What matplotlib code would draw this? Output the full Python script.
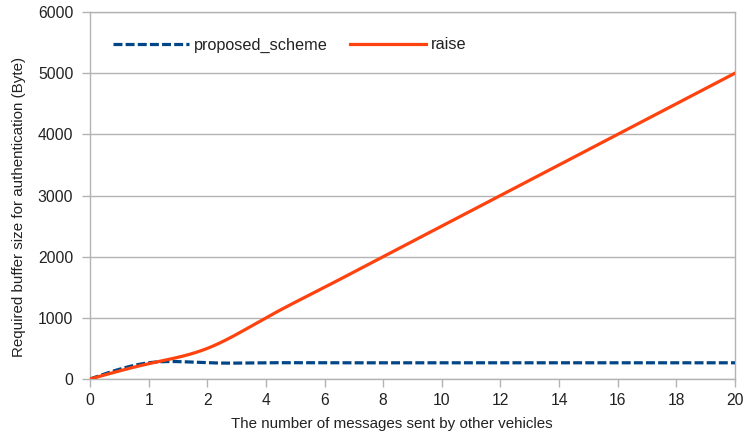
import numpy as np
import matplotlib
matplotlib.use("Agg")
import matplotlib.pyplot as plt

# data (category axis)
categories = ["0", "1", "2", "4", "6", "8", "10", "12", "14", "16", "18", "20"]
proposed_scheme = [0, 265, 265, 265, 265, 265, 265, 265, 265, 265, 265, 265]
raise_values = [0, 250, 500, 1000, 1500, 2000, 2500, 3000, 3500, 4000, 4500, 5000]
y_ticks = [0, 1000, 2000, 3000, 4000, 5000, 6000]


def natural_spline(y, steps=20):
    # cubic spline smoothing like the office chart tool, x = category index
    y = np.asarray(y, dtype=float)
    n = len(y)
    a = np.zeros((n, n))
    b = np.zeros(n)
    a[0, 0] = a[-1, -1] = 1
    for i in range(1, n - 1):
        a[i, i - 1], a[i, i], a[i, i + 1] = 1, 4, 1
        b[i] = 6 * (y[i + 1] - 2 * y[i] + y[i - 1])
    m = np.linalg.solve(a, b)
    xs, ys = [], []
    for i in range(n - 1):
        t = np.linspace(0, 1, steps, endpoint=False)
        s = ((1 - t) * y[i] + t * y[i + 1]
             + ((1 - t) ** 3 - (1 - t)) * m[i] / 6 + (t ** 3 - t) * m[i + 1] / 6)
        xs.extend(i + t)
        ys.extend(s)
    xs.append(n - 1)
    ys.append(y[-1])
    return np.array(xs), np.array(ys)


plt.rcParams["font.family"] = ["Liberation Sans", "DejaVu Sans"]
grid_color = "#b3b3b3"
text_color = "#222222"

fig = plt.figure(figsize=(7.45, 4.37), dpi=100)
ax = fig.add_axes([90 / 745, 1 - 379 / 437, 645 / 745, 367 / 437])

x_idx = np.arange(len(categories))
px, py = natural_spline(proposed_scheme)
rx, ry = natural_spline(raise_values)

ax.plot(px, py, color="#004586", lw=2.3, dashes=(2.8, 1.0), label="proposed_scheme", zorder=3)
ax.plot(rx, ry, color="#ff420e", lw=2.3, label="raise", zorder=4)

ax.set_xlim(0, len(categories) - 1)
ax.set_ylim(0, 6000)
ax.set_xticks(x_idx)
ax.set_xticklabels(categories)
ax.set_yticks(y_ticks)
ax.yaxis.grid(True, color=grid_color, lw=1)
ax.set_axisbelow(True)
for sp in ax.spines.values():
    sp.set_color(grid_color)
    sp.set_linewidth(1)
ax.tick_params(axis="both", colors=grid_color, labelcolor=text_color, labelsize=11.3, width=1)
ax.tick_params(axis="y", length=6, pad=6)
ax.tick_params(axis="x", length=6, pad=4)

fig.text(391.5 / 745, 1 - 424 / 437, "The number of messages sent by other vehicles",
         fontsize=10.9, color=text_color, ha="center", va="center")
fig.text(19 / 745, 1 - 207 / 437, "Required buffer size for authentication (Byte)",
         fontsize=10.9, color=text_color, ha="center", va="center", rotation=90)

fig.legend(loc="center left", bbox_to_anchor=(113 / 745, 1 - 45 / 437), ncol=2, frameon=False,
           fontsize=11.7, handlelength=4.7, handletextpad=0.25, columnspacing=1.4,
           borderpad=0, borderaxespad=0, labelcolor=text_color)

fig.savefig("out.png", dpi=100)
